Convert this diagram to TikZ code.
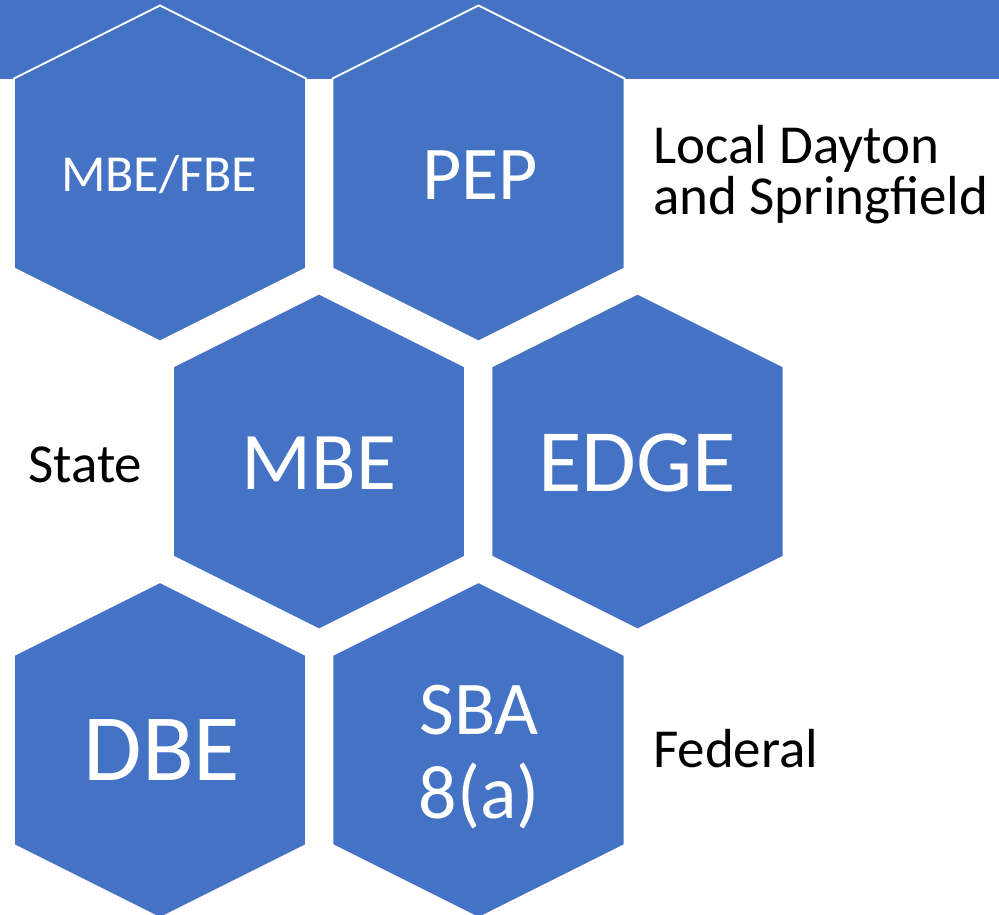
\documentclass[tikz,border=0pt]{standalone}
\usepackage{fontspec}
\setmainfont{Carlito}
\definecolor{hexblue}{RGB}{68,114,196}
\newcommand{\hexcell}[1]{%
  \filldraw[hexfill] ([shift={(0,-168)}]#1) -- ([shift={(146,-95)}]#1) -- ([shift={(146,95)}]#1)
    -- ([shift={(0,168)}]#1) -- ([shift={(-146,95)}]#1) -- ([shift={(-146,-95)}]#1) -- cycle;}
\begin{document}
\begin{tikzpicture}[x=1pt,y=-1pt,
  hexfill/.style={fill=hexblue,draw=white,line width=1.8pt,line join=miter},
  wlabel/.style={text=white,inner sep=0pt,anchor=base,align=center},
  blabel/.style={text=black,inner sep=0pt,anchor=base west,align=left}]
\useasboundingbox (0,0) rectangle (999,915);
\clip (0,0) rectangle (999,915);
\fill[hexblue] (0,0) rectangle (999,79);
\coordinate (c1) at (160,173.5);
\coordinate (c2) at (478.5,173.5);
\coordinate (c3) at (319,461.5);
\coordinate (c4) at (637.5,461.5);
\coordinate (c5) at (160,750);
\coordinate (c6) at (478.5,750);
\hexcell{c1}\hexcell{c2}\hexcell{c3}\hexcell{c4}\hexcell{c5}\hexcell{c6}
\node[wlabel,font=\fontsize{52}{60}\selectfont] (t1) at (159,192) {MBE/FBE};
\node[wlabel,font=\fontsize{76}{84}\selectfont] (t2) at (480,200) {PEP};
\node[wlabel,font=\fontsize{82}{90}\selectfont] (t3) at (319,489) {MBE};
\node[wlabel,font=\fontsize{89}{96}\selectfont] (t4) at (637,491) {EDGE};
\node[wlabel,font=\fontsize{95}{100}\selectfont] (t5) at (162,780) {DBE};
\node[wlabel,font=\fontsize{76}{84}\selectfont] (t6) at (479,818) {SBA\\8(a)};
\node[blabel,font=\fontsize{55}{51}\selectfont] (l1) at (653,214) {Local Dayton\\and Springfield};
\node[blabel,font=\fontsize{55}{51}\selectfont] (l2) at (28,482) {State};
\node[blabel,font=\fontsize{55}{51}\selectfont] (l3) at (653,767) {Federal};
\end{tikzpicture}
\end{document}
